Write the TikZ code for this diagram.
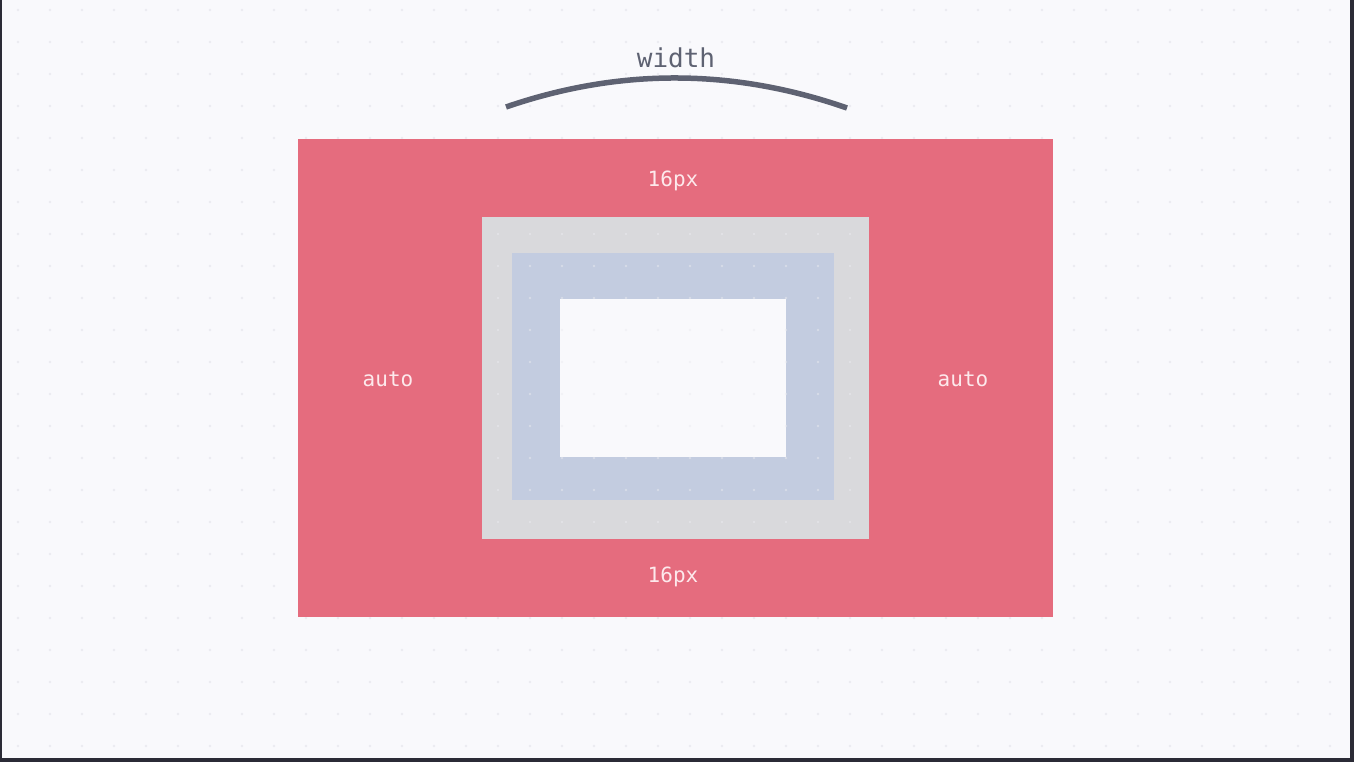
\documentclass[tikz,border=0pt]{standalone}
\usepackage{fontspec}
\newfontfamily\monofont{DejaVu Sans Mono}
\definecolor{bgc}{HTML}{F9F9FC}
\definecolor{dotc}{HTML}{EBEBF0}
\definecolor{marginc}{HTML}{E56C7E}
\definecolor{borderc}{HTML}{D9D9DC}
\definecolor{paddingc}{HTML}{C3CCE0}
\definecolor{contentc}{HTML}{F9F9FC}
\definecolor{labelc}{HTML}{FDE9EC}
\definecolor{inkc}{HTML}{5E6272}
\definecolor{framec}{HTML}{2B2B36}
\tikzset{
  boxlabel/.style={text=labelc, font=\monofont\fontsize{21}{21}\selectfont, inner sep=0pt, anchor=center},
  titlelabel/.style={text=inkc, font=\monofont\fontsize{26}{26}\selectfont, inner sep=0pt, anchor=center},
}
\begin{document}
\begin{tikzpicture}[x=1pt,y=-1pt]
\useasboundingbox (0,0) rectangle (1354,762);
\fill[bgc] (0,0) rectangle (1354,762);
% dot grid
\foreach \i in {0,...,42} {
  \foreach \j in {0,...,23} {
    \fill[dotc] ({18+32*\i},{10+32*\j}) circle (1.3);
  }
}
% frame edges
\fill[framec] (0,0) rectangle (2,762);
\fill[framec] (1350,0) rectangle (1354,762);
\fill[framec] (0,758) rectangle (1354,762);
% boxes
\fill[marginc] (298,139) rectangle (1053,617);
\fill[borderc] (482,217) rectangle (869,539);
\fill[paddingc] (512,253) rectangle (834,500);
\fill[contentc] (560,299) rectangle (786,457);
% faint dots over the inner boxes
\begin{scope}
\clip (482,217) rectangle (869,539);
\foreach \i in {15,...,27} {
  \foreach \j in {6,...,16} {
    \fill[dotc, opacity=0.5] ({18+32*\i},{10+32*\j}) circle (1.3);
  }
}
\end{scope}
% labels
\node[boxlabel] (top) at (673,181) {16px};
\node[boxlabel] (bottom) at (673,577) {16px};
\node[boxlabel] (left) at (388,379) {auto};
\node[boxlabel] (right) at (963,379) {auto};
\node[titlelabel] (width) at (676,58) {width};
% arc
\coordinate (arcL) at (506,107);
\coordinate (arcR) at (847,108);
\draw[inkc, line width=5.5] (arcL) .. controls (619.3,68) and (733,68.3) .. (arcR);
\end{tikzpicture}
\end{document}
